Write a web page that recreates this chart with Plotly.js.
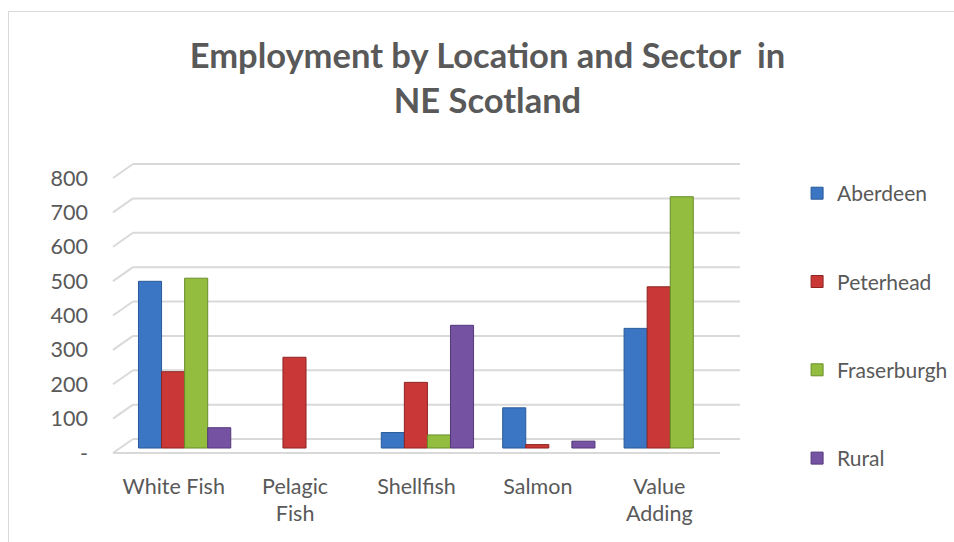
<!DOCTYPE html>
<html>
<head>
<meta charset="utf-8">
<script src="https://cdn.plot.ly/plotly-3.0.1.min.js"></script>
<style>
  html, body { margin: 0; padding: 0; background: #fff; }
  #frame { position: absolute; left: 8px; top: 11px; width: 960px; height: 560px;
           border-left: 1px solid #d9d9d9; border-top: 1px solid #d9d9d9; }
  #chart { position: absolute; left: 0; top: 0; width: 954px; height: 542px; }
</style>
</head>
<body>
<div id="frame"></div>
<div id="chart"></div>
<script>
// categories and series (null = no bar)
var sectors = ['White Fish', 'Pelagic<br>Fish', 'Shellfish', 'Salmon', 'Value<br>Adding'];

var aberdeen    = [485, null, 45, 117, 348];
var peterhead   = [222, 264, 191, 10, 469];
var fraserburgh = [494, null, 38, null, 731];
var rural       = [59, null, 357, 20, null];

var yTicks = [0, 100, 200, 300, 400, 500, 600, 700, 800];
var yTickText = ['-', '100', '200', '300', '400', '500', '600', '700', '800'];

var grey = '#595959';

function bar(name, vals, color, line) {
    return {
        x: sectors,
        y: vals,
        name: name,
        type: 'bar',
        xaxis: 'x2',
        yaxis: 'y2',
        legendgroup: name,
        marker: {color: color, line: {color: line, width: 1}},
        hoverinfo: 'x+y+name'
    };
}

var data = [
    bar('Aberdeen', aberdeen, '#3a76c4', '#2a5a99'),
    bar('Peterhead', peterhead, '#c93836', '#8e2523'),
    bar('Fraserburgh', fraserburgh, '#92bd3e', '#6a8d2a'),
    bar('Rural', rural, '#7652a3', '#53397a'),
    // invisible trace so the label axes carry the categories
    {x: sectors, y: [0, 0, 0, 0, 0], type: 'scatter', mode: 'markers',
     marker: {opacity: 0}, showlegend: false, hoverinfo: 'skip'}
];

// fake 3d back wall: shifted gridlines plus short diagonals
var shapes = [];
yTicks.forEach(function (v) {
    var py = v / 800;
    shapes.push({
        type: 'line', layer: 'below',
        xref: 'paper', xsizemode: 'pixel', xanchor: 0,
        yref: 'paper', ysizemode: 'pixel', yanchor: py,
        x0: 20, x1: 627, y0: 14, y1: 14,
        line: {color: '#d9d9d9', width: 2}
    });
    shapes.push({
        type: 'line', layer: 'below',
        xref: 'paper', xsizemode: 'pixel', xanchor: 0,
        yref: 'paper', ysizemode: 'pixel', yanchor: py,
        x0: 0, x1: 20, y0: 0, y1: 14,
        line: {color: '#d9d9d9', width: 2}
    });
});
shapes.push({
    type: 'line', layer: 'below',
    xref: 'paper', yref: 'paper', x0: 0, x1: 1, y0: 0, y1: 0,
    line: {color: '#d9d9d9', width: 2}
});

var layout = {
    width: 954,
    height: 542,
    margin: {l: 113, r: 234, t: 178, b: 89, autoexpand: false},
    paper_bgcolor: 'rgba(0,0,0,0)',
    plot_bgcolor: 'rgba(0,0,0,0)',
    font: {family: 'Lato, "Open Sans", sans-serif', size: 21.5, color: grey},
    title: {
        text: '<b>Employment by Location and Sector  in<br>NE Scotland</b>',
        font: {size: 34.5, color: grey},
        x: 0.511, xanchor: 'center',
        y: 0.875, yanchor: 'top', yref: 'container'
    },
    barmode: 'group',
    bargap: 0.24,
    bargroupgap: 0,
    showlegend: true,
    legend: {
        x: 1.127, xanchor: 'left',
        y: 1.018, yanchor: 'top',
        traceorder: 'grouped',
        tracegroupgap: 58,
        maxheight: 420,
        font: {size: 21, color: grey},
        itemwidth: 30
    },
    xaxis: {
        type: 'category',
        range: [-0.5, 4.5],
        showgrid: false,
        zeroline: false,
        showline: false,
        ticks: '',
        ticklabelstandoff: 18,
        tickfont: {size: 21.5, color: grey}
    },
    yaxis: {
        range: [0, 800],
        tickvals: yTicks,
        ticktext: yTickText,
        showgrid: false,
        zeroline: false,
        showline: false,
        ticks: '',
        ticklabelstandoff: 24,
        tickfont: {size: 21.5, color: grey}
    },
    // bars sit a little behind the front plane, so their axes are shifted
    xaxis2: {
        type: 'category',
        overlaying: 'x',
        range: [-0.59, 4.41],
        visible: false
    },
    yaxis2: {
        overlaying: 'y',
        range: [-14.5, 785.5],
        visible: false
    },
    shapes: shapes
};

Plotly.newPlot('chart', data, layout, {displayModeBar: false});
</script>
</body>
</html>
